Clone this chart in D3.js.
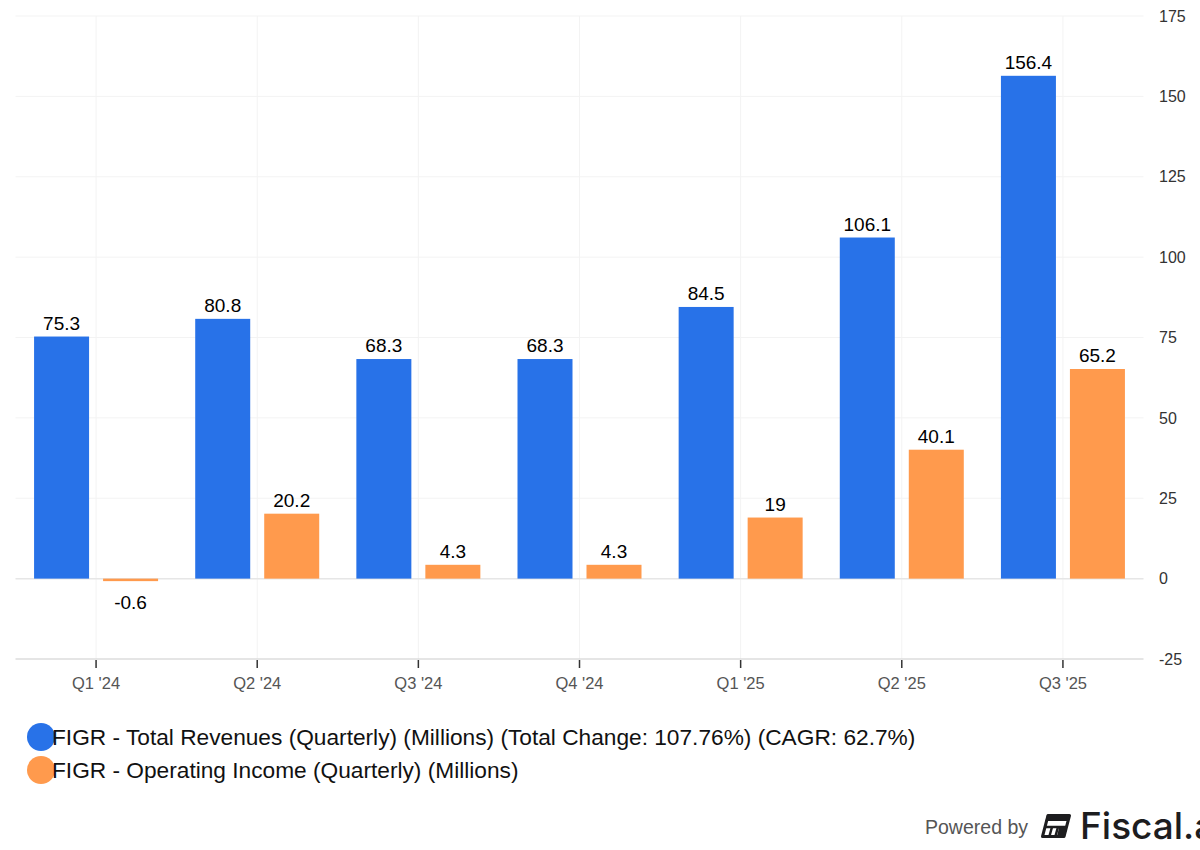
<!DOCTYPE html>
<html>
<head>
<meta charset="utf-8">
<script src="https://cdn.jsdelivr.net/npm/d3@7"></script>
<style>
body { margin: 0; background: #fff; font-family: "Liberation Sans", Arial, sans-serif; }
</style>
</head>
<body>
<svg id="view" width="1200" height="850"></svg>
<script>
var quarters = ["Q1 '24", "Q2 '24", "Q3 '24", "Q4 '24", "Q1 '25", "Q2 '25", "Q3 '25"];
var revenues = [75.3, 80.8, 68.3, 68.3, 84.5, 106.1, 156.4];
var opIncome = [-0.6, 20.2, 4.3, 4.3, 19, 40.1, 65.2];
var yTicks = [-25, 0, 25, 50, 75, 100, 125, 150, 175];
var seriesNames = [
	"FIGR - Total Revenues (Quarterly) (Millions) (Total Change: 107.76%) (CAGR: 62.7%)",
	"FIGR - Operating Income (Quarterly) (Millions)"
];
var colors = ["#2872e8", "#ff9a4d"];

var svg = d3.select("#view");
var plotLeft = 15.5, plotRight = 1143.5, plotTop = 16, plotBottom = 659;

var x = d3.scaleBand().domain(quarters).range([plotLeft, plotRight]).padding(0);
var y = d3.scaleLinear().domain([-25, 175]).range([plotBottom, plotTop]);

// gridlines
var grid = svg.append("g");
grid.selectAll("line.h").data(yTicks.filter(d => d != -25 && d != 0)).join("line")
	.attr("x1", plotLeft).attr("x2", plotRight)
	.attr("y1", d => y(d)).attr("y2", d => y(d))
	.attr("stroke", "#f3f3f3").attr("stroke-width", 1);
grid.selectAll("line.v").data(quarters).join("line")
	.attr("x1", d => x(d) + x.bandwidth()/2).attr("x2", d => x(d) + x.bandwidth()/2)
	.attr("y1", plotTop).attr("y2", plotBottom)
	.attr("stroke", "#f3f3f3").attr("stroke-width", 1);

// zero line
svg.append("line").attr("x1", plotLeft).attr("x2", plotRight)
	.attr("y1", y(0)).attr("y2", y(0))
	.attr("stroke", "#e6e6e6").attr("stroke-width", 1.5);

// bars
var barW = 55, gap = 14;
var groups = [revenues, opIncome];
groups.forEach((vals, s) => {
	var off = s == 0 ? -(gap/2 + barW) : gap/2;
	svg.append("g").selectAll("rect").data(vals).join("rect")
		.attr("x", (d, i) => x(quarters[i]) + x.bandwidth()/2 + off)
		.attr("width", barW)
		.attr("y", d => Math.min(y(d), y(0)) )
		.attr("height", d => Math.max(Math.abs(y(d) - y(0)), 2.5))
		.attr("fill", colors[s]);
	svg.append("g").selectAll("text").data(vals).join("text")
		.attr("x", (d, i) => x(quarters[i]) + x.bandwidth()/2 + off + barW/2)
		.attr("y", d => d < 0 ? y(0) + 30 : y(d) - 7)
		.attr("text-anchor", "middle")
		.attr("font-size", 19)
		.attr("fill", "#000")
		.text(d => d);
});

// bottom axis
var xAxis = svg.append("g").attr("transform", "translate(0," + plotBottom + ")")
	.call(d3.axisBottom(x).tickSize(9).tickPadding(9));
xAxis.select(".domain").attr("stroke", "#dcdcdc").attr("stroke-width", 1.5).attr("d", "M" + plotLeft + ",0H" + plotRight);
xAxis.selectAll(".tick line").attr("stroke", "#333").attr("stroke-width", 1.5).attr("y1", 1);
xAxis.selectAll(".tick text").attr("font-size", 16.5).attr("fill", "#555").attr("font-family", "Liberation Sans, Arial, sans-serif");

// right axis
var yAxis = svg.append("g").attr("transform", "translate(1159,0)")
	.call(d3.axisRight(y).tickValues(yTicks).tickFormat(d => String(d)).tickSize(0).tickPadding(0));
yAxis.select(".domain").remove();
yAxis.selectAll(".tick text").attr("font-size", 16).attr("fill", "#333").attr("font-family", "Liberation Sans, Arial, sans-serif");

// legend
var legend = svg.append("g").selectAll("g").data(seriesNames).join("g")
	.attr("transform", (d, i) => "translate(0," + (737 + i * 33) + ")");
legend.append("circle").attr("cx", 41).attr("cy", 0).attr("r", 14).attr("fill", (d, i) => colors[i]);
legend.append("text").attr("x", 52).attr("y", 8)
	.attr("font-size", 22.7).attr("fill", "#111").text(d => d);

// footer
svg.append("text").attr("x", 1028).attr("y", 834).attr("text-anchor", "end")
	.attr("font-size", 19.5).attr("fill", "#555").text("Powered by");
var logo = svg.append("g").attr("transform", "translate(1042,814)");
logo.append("path").attr("d", "M6,1.5 H27.5 L22,22.5 H0.5 Z")
	.attr("fill", "none").attr("stroke", "#1d1d1f").attr("stroke-width", 3).attr("stroke-linejoin", "round");
logo.append("path").attr("d", "M5,1 H28 L26.5,7 H3.5 Z").attr("fill", "#1d1d1f");
logo.append("path").attr("d", "M3,13 H25").attr("stroke", "#1d1d1f").attr("stroke-width", 2.5);
logo.append("path").attr("d", "M10,13 L7.5,22 M16,13 L13.5,22").attr("stroke", "#1d1d1f").attr("stroke-width", 2.5);
logo.append("path").attr("d", "M17,14 H25 L23,22 H15 Z").attr("fill", "#1d1d1f");
svg.append("text").attr("x", 1080).attr("y", 839)
	.attr("font-size", 37).attr("font-weight", "500").attr("fill", "#1d1d1f")
	.attr("font-family", "Inter, Liberation Sans, sans-serif").text("Fiscal.ai");
</script>
</body>
</html>
